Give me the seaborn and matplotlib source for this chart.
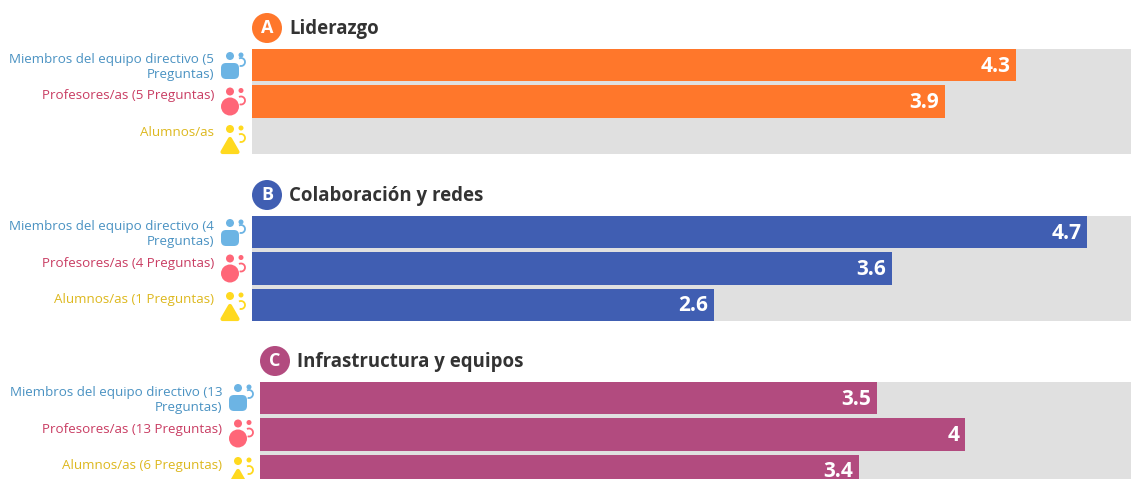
import numpy as np
import pandas as pd
import matplotlib.pyplot as plt
import seaborn as sns
from matplotlib.patches import Circle, Arc, FancyBboxPatch, Polygon

plt.rcParams['text.usetex'] = False

W, H = 1131, 479

grupos_a = ['Miembros del equipo directivo (5\nPreguntas)', 'Profesores/as (5 Preguntas)', 'Alumnos/as']
grupos_b = ['Miembros del equipo directivo (4\nPreguntas)', 'Profesores/as (4 Preguntas)', 'Alumnos/as (1 Preguntas)']
grupos_c = ['Miembros del equipo directivo (13\nPreguntas)', 'Profesores/as (13 Preguntas)', 'Alumnos/as (6 Preguntas)']
valores_a = [4.3, 3.9, np.nan]
valores_b = [4.7, 3.6, 2.6]
valores_c = [3.5, 4, 3.4]
letras = ['A', 'B', 'C']
titulos = ['Liderazgo', 'Colaboración y redes', 'Infrastructura y equipos']
colores = ['#FF772B', '#405EB2', '#B24B7F']
colores_texto = ['#4A92C2', '#C93D63', '#DDB81E']
colores_icono = ['#6CB4E4', '#FF6678', '#FFD91F']

# left edge, top edge, px per unit
paneles = [(252, 49, 177.7), (252, 216, 177.7), (260, 382, 176.3)]
alto_panel = 105


def dibuja_icono(ov, kind, cx, top, color):
    dy = {0: (7, 6, 13), 1: (6, 5, 15), 2: (7, 6, 16)}[kind]
    ov.add_patch(Circle((cx, top + dy[0]), 4, fc=color, ec='none'))
    ov.add_patch(Circle((cx + 11, top + dy[1]), 2.5, fc=color, ec='none'))
    ov.add_patch(Arc((cx + 11, top + dy[2]), 8, 8, theta1=-120, theta2=110, ec=color, lw=1.3))
    if kind == 0:
        ov.add_patch(FancyBboxPatch((cx - 4, top + 19), 8, 6, boxstyle='round,pad=5,rounding_size=5', fc=color, ec='none'))
    elif kind == 1:
        ov.add_patch(Circle((cx, top + 21), 9, fc=color, ec='none'))
    else:
        ov.add_patch(Polygon([[cx, top + 17], [cx + 7.5, top + 30], [cx - 7.5, top + 30]], closed=True, fc=color, ec=color, lw=3, joinstyle='round'))


sns.set_theme(style='white')
plt.rcParams['font.family'] = ['Open Sans', 'DejaVu Sans']

fig = plt.figure(figsize=(W / 100, H / 100), dpi=100, facecolor='white')
ov = fig.add_axes([0, 0, 1, 1], zorder=5)
ov.set_xlim(0, W)
ov.set_ylim(H, 0)
ov.axis('off')

datos = [(grupos_a, valores_a), (grupos_b, valores_b), (grupos_c, valores_c)]
for n, (grupos, valores) in enumerate(datos):
    izq, top, escala = paneles[n]
    ax = fig.add_axes([izq / W, 1 - (top + alto_panel) / H, (W - izq) / W, alto_panel / H])
    df = pd.DataFrame({'grupo': grupos, 'valor': valores})
    sns.barplot(data=df, x='valor', y='grupo', order=grupos, color=colores[n], saturation=1, width=0.88, errorbar=None, orient='h', linewidth=0, ax=ax)
    ax.set_facecolor('#E0E0E0')
    ax.set_xlim(0, (W - izq) / escala)
    ax.set_ylim(2.44, -0.44)
    ax.set_xlabel('')
    ax.set_ylabel('')
    ax.set_xticks([])
    ax.set_yticks([])
    sns.despine(ax=ax, left=True, bottom=True)
    for i, v in enumerate(valores):
        ax.annotate(grupos[i], xy=(0, i), xycoords=ax.get_yaxis_transform(), xytext=(-38, 12), textcoords='offset pixels', ha='right', va='top', fontsize=9.65, color=colores_texto[i], linespacing=1.2)
        dibuja_icono(ov, i, izq - 22, top + 36.5 * i - (1 if n == 2 else 0), colores_icono[i])
        if not np.isnan(v):
            ax.annotate(f'{v:g}', xy=(v, i), xytext=(-6, -1), textcoords='offset pixels', ha='right', va='center', fontsize=15, fontweight='bold', color='white')
    cy = top - 21
    ov.add_patch(Circle((izq + 15, cy), 15, fc=colores[n], ec='none'))
    ov.text(izq + 15, cy, letras[n], ha='center', va='center', fontsize=13, fontweight='bold', color='white')
    ov.text(izq + 37, cy + 1, titulos[n], ha='left', va='center', fontsize=13.4, fontweight='bold', color='#333333')

plt.savefig('out.png', dpi=100)
